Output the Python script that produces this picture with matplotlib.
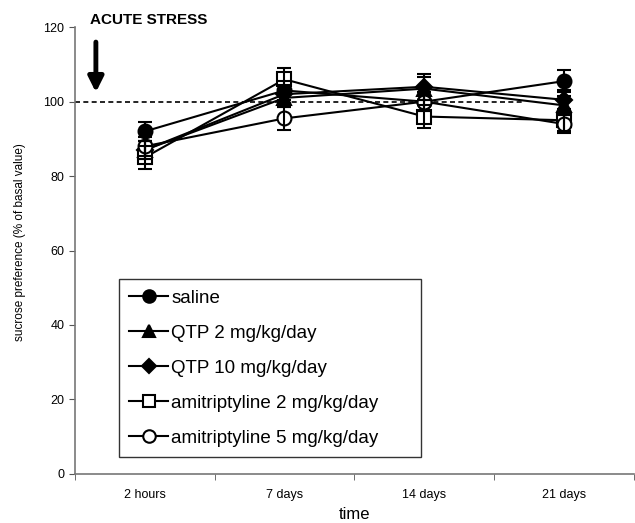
import matplotlib
matplotlib.use('Agg')
import matplotlib.pyplot as plt
from matplotlib.lines import Line2D
import numpy as np

plt.rcParams['font.family'] = ['Liberation Sans', 'DejaVu Sans']

times = ['2 hours', '7 days', '14 days', '21 days']

saline = [92, 103, 100, 105.5]
saline_err = [2.5, 2.5, 2.5, 3]
qtp2 = [87, 101, 103.5, 99]
qtp2_err = [2.5, 2.5, 3, 2.5]
qtp10 = [87, 102, 104, 100.5]
qtp10_err = [2.5, 2.5, 3.5, 2.5]
ami2 = [85, 106, 96, 95]
ami2_err = [3, 3, 3, 3]
ami5 = [88, 95.5, 100, 94]
ami5_err = [2.5, 3, 2.5, 2.5]

series = [
    ('saline', saline, saline_err, 'o', 'black'),
    ('QTP 2 mg/kg/day', qtp2, qtp2_err, '^', 'black'),
    ('QTP 10 mg/kg/day', qtp10, qtp10_err, 'D', 'black'),
    ('amitriptyline 2 mg/kg/day', ami2, ami2_err, 's', 'white'),
    ('amitriptyline 5 mg/kg/day', ami5, ami5_err, 'o', 'white'),
]
msizes = {'o': 10, '^': 10, 'D': 8, 's': 10}

fig = plt.figure(figsize=(6.35, 5.23), dpi=100)
ax = fig.add_axes([0.118, 0.094, 0.88, 0.854])

x = np.arange(len(times))
handles = []
for label, vals, err, mk, fc in series:
    ax.plot(x, vals, color='black', lw=1.5, marker=mk, markersize=msizes[mk],
            markerfacecolor=fc, markeredgecolor='black', markeredgewidth=1.5,
            zorder=3)
    # error bars on top of the markers, as in the original
    ax.errorbar(x, vals, yerr=err, fmt='none', ecolor='black', elinewidth=1.5,
                capsize=5, capthick=1.5, zorder=4)
    handles.append(Line2D([], [], color='black', lw=1.5, marker=mk,
                          markersize=msizes[mk] * 0.9, markerfacecolor=fc,
                          markeredgecolor='black', markeredgewidth=1.5,
                          label=label))

# dashed reference line at basal value
ax.plot([-0.5, 2.7], [100, 100], ls=(0, (3, 2)), color='black', lw=1.2,
        clip_on=False, zorder=2)

# arrow marking acute stress
ax.annotate('', xy=(-0.35, 102.5), xytext=(-0.35, 116),
            arrowprops=dict(arrowstyle='-|>,head_width=0.45,head_length=0.9',
                            color='black', lw=3.5, shrinkA=0, shrinkB=0))
ax.text(-0.39, 122, 'ACUTE STRESS', fontsize=11, fontweight='bold',
        va='center', ha='left', clip_on=False)

ax.set_xlim(-0.5, 3.5)
ax.set_ylim(0, 120)
ax.set_yticks(np.arange(0, 121, 20))
ax.set_xticks(x)
ax.set_xticklabels(times, fontsize=9)
ax.set_xticks(np.arange(-0.5, 3.6, 1), minor=True)
ax.tick_params(axis='x', which='major', length=0, pad=11)
ax.tick_params(axis='x', which='minor', length=4, color='#555555')
ax.tick_params(axis='y', labelsize=9, length=4, color='#555555')

for s in ['top', 'right']:
    ax.spines[s].set_visible(False)
for s in ['left', 'bottom']:
    ax.spines[s].set_color('#777777')
    ax.spines[s].set_linewidth(1.2)

ax.set_xlabel('time', fontsize=12, labelpad=4)
ax.set_ylabel('sucrose preference (% of basal value)', fontsize=8.5)
ax.yaxis.set_label_coords(-0.087, 0.52)

leg = ax.legend(handles=handles, loc='lower left',
                bbox_to_anchor=(0.078, 0.038, 0.541, 0.414), mode='expand',
                fontsize=13.5, frameon=True, fancybox=False, edgecolor='black',
                handlelength=2.1, handletextpad=0.15, labelspacing=0.95,
                borderpad=0.55, borderaxespad=0)
leg.get_frame().set_linewidth(1.0)

fig.savefig('out.png', dpi=100)
